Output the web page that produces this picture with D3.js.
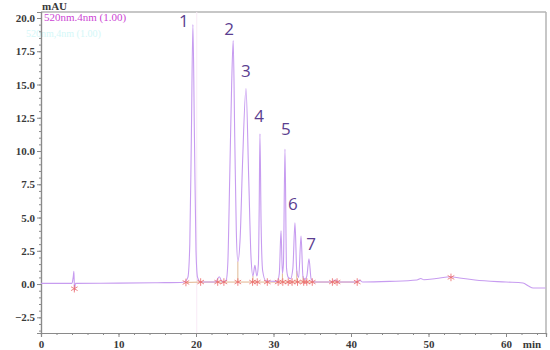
<!DOCTYPE html>
<html>
<head>
<meta charset="utf-8">
<script src="https://cdn.jsdelivr.net/npm/d3@7"></script>
<style>
  body { margin: 0; background: #fff; }
  svg text { font-family: 'Liberation Serif', 'Times New Roman', serif; }
  .peak-label { font-family: 'Open Sans', 'Liberation Sans', sans-serif; }
</style>
</head>
<body>
<div class="chartcontainer"></div>
<script>
// trace: time (min) and absorbance (mAU)
const traceTime = [0, 4.0, 4.15, 4.25, 4.32, 4.45, 10, 15, 18.0, 18.6, 18.95, 19.2, 19.4, 19.6, 19.8, 20.0, 20.2, 20.6,
  22.5, 23.0, 23.4, 23.9, 24.1, 24.35, 24.6, 24.8, 25.0, 25.2, 25.4, 25.7, 26.0, 26.45, 26.8, 27.1, 27.35, 27.6, 27.85,
  28.05, 28.15, 28.25, 28.4, 28.6, 29.0, 30.5, 30.75, 30.97, 31.15, 31.28, 31.48, 31.68, 31.9, 32.2, 32.5, 32.77, 33.0,
  33.25, 33.55, 33.8, 34.05, 34.3, 34.58, 34.85, 35.3, 37.5, 38.0, 38.4, 40.7, 41.1, 41.5, 45, 48.5, 49.0, 49.4, 51,
  52.9, 54, 56, 60, 62.2, 62.9, 63.5, 65.1]
const traceMAU = [0.05, 0.05, 0.5, 0.95, -0.5, 0.05, 0.07, 0.1, 0.12, 0.2, 0.5, 3, 11, 19.5, 11, 2.5, 0.5, 0.15,
  0.15, 0.55, 0.15, 0.3, 1.5, 8, 15, 18.3, 11, 4, 1.7, 3.5, 9, 14.7, 8, 2, 0.6, 1.4, 0.6,
  1.5, 5.5, 11.3, 4.5, 1.0, 0.25, 0.2, 0.8, 4.0, 0.8, 1.5, 10.15, 1.2, 0.5, 0.4, 1.2, 4.6, 1.0,
  0.5, 3.6, 0.6, 0.35, 0.6, 1.9, 0.4, 0.15, 0.15, 0.3, 0.15, 0.15, 0.3, 0.15, 0.2, 0.3, 0.42, 0.32, 0.42,
  0.55, 0.45, 0.3, 0.15, 0.08, -0.15, -0.3, -0.3]

// integration marks along the baseline
const markTime = [4.3, 18.7, 20.6, 22.8, 23.6, 25.4, 27.3, 27.9, 29.2, 30.6, 31.2, 31.9, 32.4, 33.1, 33.9, 34.3, 35.0, 37.6, 38.2, 40.8, 52.9]
const markMAU = [-0.35, 0.12, 0.15, 0.15, 0.15, 0.15, 0.15, 0.15, 0.15, 0.15, 0.15, 0.15, 0.15, 0.15, 0.15, 0.15, 0.15, 0.15, 0.15, 0.15, 0.5]
// valley drop lines
const dropTime = [25.4, 27.35, 31.15, 33.0, 33.8]
const dropMAU = [1.7, 0.6, 0.8, 1.0, 0.6]

// peak numbers and their label anchors
const peakNames = ['1', '2', '3', '4', '5', '6', '7']
const peakLabelTime = [18.45, 24.26, 26.45, 28.13, 31.6, 32.5, 34.84]
const peakLabelMAU = [19.3, 18.7, 15.56, 12.18, 11.2, 5.56, 2.56]

const yMajor = [-2.5, 0, 2.5, 5, 7.5, 10, 12.5, 15, 17.5, 20]
const xMajor = [0, 10, 20, 30, 40, 50, 60]

const w = 550
const h = 350
const padLeft = 41
const padRight = 546
const padTop = 12
const padBottom = 333

const xScale = d3.scaleLinear().domain([0, 65.16]).range([padLeft, padRight])
const yScale = d3.scaleLinear().domain([-3.68, 20.45]).range([padBottom, padTop])

const svg = d3.select('.chartcontainer').append('svg').attr('width', w).attr('height', h)

// frame top and right
svg.append('line').attr('x1', padLeft).attr('x2', padRight).attr('y1', padTop).attr('y2', padTop)
  .attr('stroke', '#b4b4b4').attr('stroke-width', 1.5)
svg.append('line').attr('x1', padRight).attr('x2', padRight).attr('y1', padTop).attr('y2', padBottom)
  .attr('stroke', '#b4b4b4').attr('stroke-width', 1.5)

// faint marker line at peak 1
svg.append('line').attr('x1', xScale(20.1)).attr('x2', xScale(20.1)).attr('y1', padTop).attr('y2', padBottom)
  .attr('stroke', '#f8eaf6').attr('stroke-width', 1)

// ghost text
svg.append('text').text('520nm,4nm (1.00)').attr('x', 26).attr('y', 37)
  .attr('font-size', 10).attr('fill', '#d4f7f8')

// axes
const yAxis = d3.axisLeft(yScale).tickValues(yMajor).tickFormat(d3.format('.1f')).tickSize(4)
const yMinor = d3.axisLeft(yScale).tickValues(d3.range(-3.5, 20.01, 0.5)).tickFormat('').tickSize(2)
const xAxis = d3.axisBottom(xScale).tickValues(xMajor).tickFormat(d3.format('d')).tickSize(4)
const xMinor = d3.axisBottom(xScale).tickValues(d3.range(0, 65, 2)).tickFormat('').tickSize(2)

function styleAxis(g) {
  g.select('.domain').attr('stroke', '#8a8a8a').attr('stroke-width', 1.2)
  g.selectAll('.tick line').attr('stroke', '#8a8a8a')
  g.selectAll('.tick text').attr('fill', '#3a3a3a').attr('font-size', 11)
    .attr('font-weight', 'bold')
    .attr('font-family', "'Liberation Serif', serif")
}

svg.append('g').attr('transform', 'translate(' + padLeft + ',0)').call(yMinor).call(styleAxis)
svg.append('g').attr('id', 'y-axis').attr('transform', 'translate(' + padLeft + ',0)').call(yAxis).call(styleAxis)
  .selectAll('.tick text').attr('x', -6)
svg.append('g').attr('transform', 'translate(0,' + padBottom + ')').call(xMinor).call(styleAxis)
svg.append('g').attr('id', 'x-axis').attr('transform', 'translate(0,' + padBottom + ')').call(xAxis).call(styleAxis)
  .selectAll('.tick text').attr('y', 7)

svg.append('text').text('mAU').attr('x', 42).attr('y', 10).attr('font-size', 11)
  .attr('font-weight', 'bold').attr('fill', '#3a3a3a')
svg.append('text').text('min').attr('x', 532).attr('y', 348).attr('text-anchor', 'middle')
  .attr('font-size', 11).attr('font-weight', 'bold').attr('fill', '#3a3a3a')

svg.append('text').text('520nm.4nm (1.00)').attr('x', 44).attr('y', 21)
  .attr('font-size', 11).attr('fill', '#cc44d4')

// baseline of integration
svg.append('path')
  .datum(d3.range(1, markTime.length - 1))
  .attr('fill', 'none').attr('stroke', '#d9a070').attr('stroke-width', 0.8)
  .attr('d', d3.line().x((i) => xScale(markTime[i])).y((i) => yScale(markMAU[i])))

svg.selectAll('line.drop')
  .data(dropTime)
  .join('line')
  .attr('class', 'drop')
  .attr('x1', (d) => xScale(d)).attr('x2', (d) => xScale(d))
  .attr('y1', (d, i) => yScale(dropMAU[i])).attr('y2', yScale(0.15))
  .attr('stroke', '#d8a878').attr('stroke-width', 0.8)

// trace
const line = d3.line()
  .x((i) => xScale(traceTime[i]))
  .y((i) => yScale(traceMAU[i]))
  .curve(d3.curveMonotoneX)

svg.append('path')
  .datum(d3.range(traceTime.length))
  .attr('fill', 'none')
  .attr('stroke', '#c79cf0')
  .attr('stroke-width', 1.1)
  .attr('d', line)

// integration marks
const mark = d3.symbol().type(d3.symbolAsterisk).size(40)
svg.selectAll('path.mark')
  .data(markTime)
  .join('path')
  .attr('class', 'mark')
  .attr('transform', (d, i) => 'translate(' + xScale(d) + ',' + yScale(markMAU[i]) + ')')
  .attr('d', mark)
  .attr('fill', 'none')
  .attr('stroke', '#ec6f6f')
  .attr('stroke-width', 1)
  .attr('opacity', 0.85)

// peak numbers
svg.selectAll('text.peak-label')
  .data(peakNames)
  .join('text')
  .attr('class', 'peak-label')
  .text((d) => d)
  .attr('x', (d, i) => xScale(peakLabelTime[i]))
  .attr('y', (d, i) => yScale(peakLabelMAU[i]))
  .attr('text-anchor', 'middle')
  .attr('font-size', 17)
  .attr('fill', '#5b3e90')
</script>
</body>
</html>
